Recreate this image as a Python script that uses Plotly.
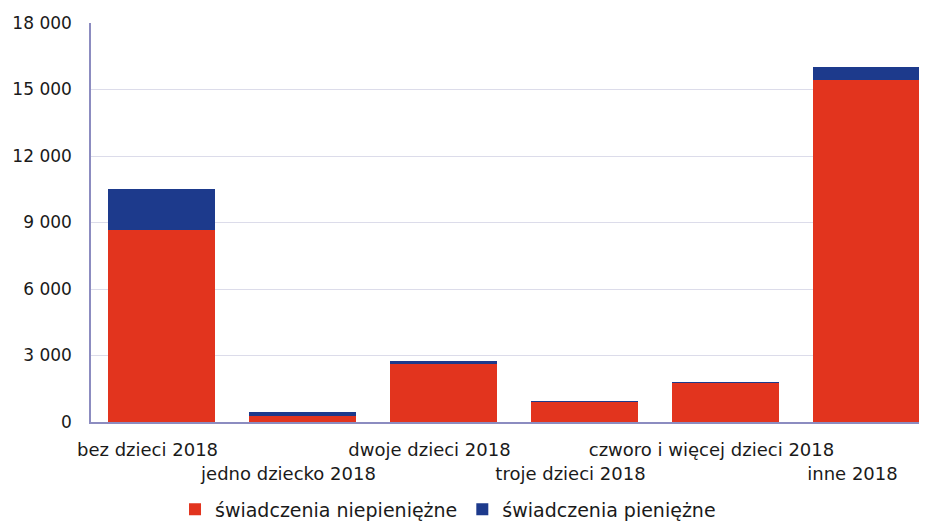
import plotly.graph_objects as go

categories = ["bez dzieci 2018", "jedno dziecko 2018", "dwoje dzieci 2018",
              "troje dzieci 2018", "czworo i więcej dzieci 2018", "inne 2018"]
niepieniezne = [8650, 270, 2600, 910, 1760, 15430]
pieniezne = [1880, 180, 170, 10, 10, 590]
y_ticks = [0, 3000, 6000, 9000, 12000, 15000, 18000]

series_names = ["świadczenia niepieniężne", "świadczenia pieniężne"]
colors = ["#e2341e", "#1d3a8c"]

ticktext = [c if i % 2 == 0 else "<br>" + c for i, c in enumerate(categories)]

fig = go.Figure()
for name, vals, col in zip(series_names, [niepieniezne, pieniezne], colors):
    fig.add_trace(go.Bar(x=categories, y=vals, name=name,
                         marker=dict(color=col, line=dict(width=0))))

fig.update_layout(
    width=927, height=526,
    barmode="stack", bargap=0.24,
    separators=", ",
    paper_bgcolor="white", plot_bgcolor="white",
    margin=dict(l=83, r=0, t=15, b=111.5),
    font=dict(family="DejaVu Sans", size=18, color="#1a1a1a"),
    showlegend=True,
    legend=dict(orientation="h", x=0.423, xanchor="center", y=-0.219, yanchor="middle",
                font=dict(size=19), traceorder="normal"),
    xaxis=dict(type="category", range=[-0.5, 5.486], tickmode="array",
               tickvals=categories, ticktext=ticktext, showgrid=False,
               showline=True, linecolor="#8c8cc0", linewidth=1.5, ticks="",
               tickangle=0, automargin=False, ticklabelstandoff=11,
               ticklabelshift=-14, tickfont=dict(size=18)),
    yaxis=dict(range=[0, 18000], tickvals=y_ticks, tickformat=",d",
               showgrid=True, gridcolor="#dcdcea", gridwidth=1,
               showline=True, linecolor="#8c8cc0", linewidth=1.5,
               zeroline=False, ticks="", ticklabelstandoff=14, automargin=False,
               tickfont=dict(size=17)),
)

fig.write_html("out.html")
